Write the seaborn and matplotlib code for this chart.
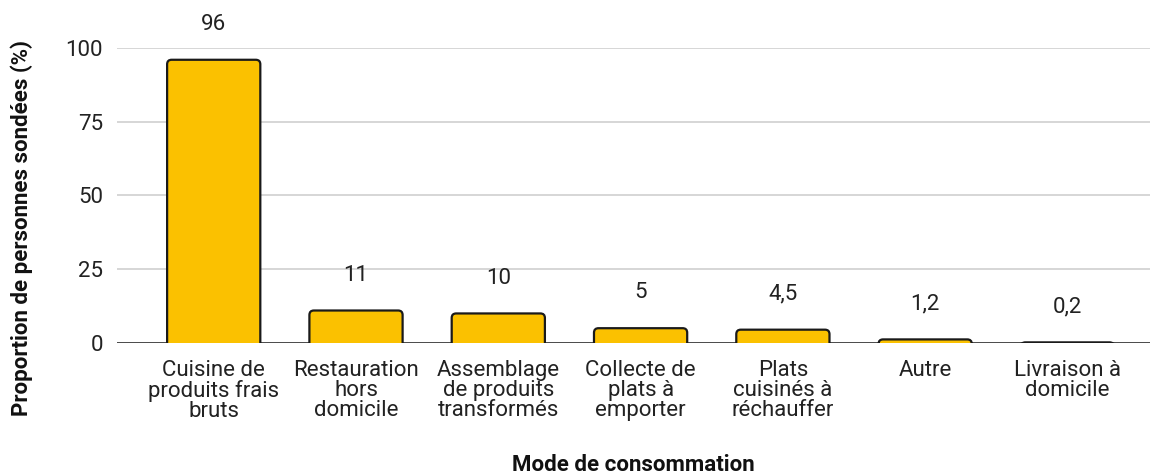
import matplotlib
matplotlib.use("Agg")
import matplotlib.pyplot as plt
from matplotlib.patches import FancyBboxPatch
import seaborn as sns
import pandas as pd

categories = [
    "Cuisine de\nproduits frais\nbruts",
    "Restauration\nhors\ndomicile",
    "Assemblage\nde produits\ntransformés",
    "Collecte de\nplats à\nemporter",
    "Plats\ncuisinés à\nréchauffer",
    "Autre",
    "Livraison à\ndomicile",
]
values = [96, 11, 10, 5, 4.5, 1.2, 0.2]
value_labels = ["96", "11", "10", "5", "4,5", "1,2", "0,2"]
yticks = [0, 25, 50, 75, 100]

sns.set_theme(style="white")
plt.rcParams["font.family"] = ["Roboto", "DejaVu Sans"]

FS = 16

df = pd.DataFrame({"mode": categories, "pct": values})

fig = plt.figure(figsize=(11.5, 4.75), dpi=100)
ax = fig.add_axes([0.1017, 0.278, 0.8983, 0.621])

sns.barplot(data=df, x="mode", y="pct", ax=ax, color="#FBC100",
            saturation=1, width=0.655, edgecolor="#1a1a1a", linewidth=1.6,
            zorder=3)

ax.set_ylim(0, 100)
ax.set_xlim(-0.68, 6.58)

# Give the bars rounded top corners (bottom corners are hidden below zero)
fig.canvas.draw()
x0, y0 = ax.transData.transform((0, 0))
x1, y1 = ax.transData.transform((1, 1))
px_x = 1.0 / (x1 - x0)   # data units per pixel along x
px_y = 1.0 / (y1 - y0)   # data units per pixel along y
radius_px = 4.5
for p in list(ax.patches):
    bx, bw, bh = p.get_x(), p.get_width(), p.get_height()
    ext = radius_px * px_y
    fb = FancyBboxPatch((bx, -ext), bw, bh + ext,
                        boxstyle=f"round,pad=0,rounding_size={radius_px * px_x}",
                        mutation_aspect=px_y / px_x,
                        facecolor=p.get_facecolor(), edgecolor="#1a1a1a",
                        linewidth=1.6, zorder=3, clip_on=True)
    p.remove()
    ax.add_patch(fb)

ax.set_yticks(yticks)
ax.set_yticklabels([str(t) for t in yticks], fontsize=FS, color="#222222")
ax.tick_params(axis="x", labelsize=FS, colors="#222222", length=0, pad=12)
ax.tick_params(axis="y", length=0, pad=10)
for lab in ax.get_xticklabels():
    lab.set_linespacing(0.95)

ax.grid(axis="y", color="#cccccc", linewidth=1.1, zorder=0)
ax.axhline(0, color="#333333", linewidth=1.2, zorder=2)
for s in ax.spines.values():
    s.set_visible(False)

for i, (v, t) in enumerate(zip(values, value_labels)):
    ax.annotate(t, (i, v), xytext=(0, 25.5), textcoords="offset points",
                ha="center", va="center", fontsize=FS, color="#222222",
                annotation_clip=False)

ax.set_xlabel("Mode de consommation", fontsize=FS, fontweight="bold",
              color="#111111")
ax.xaxis.set_label_coords(0.5, -0.414)
ax.xaxis.label.set_va("center")
ax.set_ylabel("Proportion de personnes sondées (%)", fontsize=FS,
              fontweight="bold", color="#111111")
ax.yaxis.set_label_coords(-0.092, 0.39)
ax.yaxis.label.set_va("center")

fig.savefig("out.png", dpi=100)
